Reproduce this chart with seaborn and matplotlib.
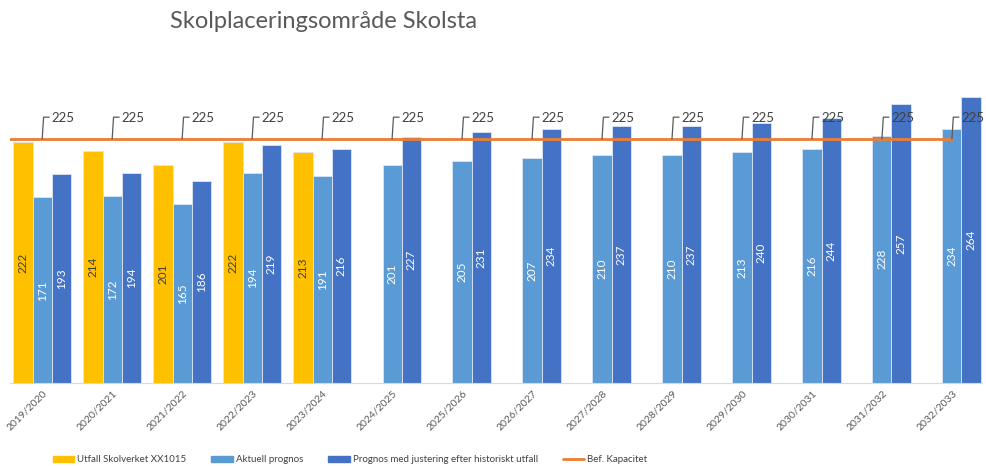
import numpy as np
import pandas as pd
import seaborn as sns
import matplotlib.pyplot as plt
from matplotlib.patches import Patch
from matplotlib.lines import Line2D

# Values
years = ['2019/2020', '2020/2021', '2021/2022', '2022/2023', '2023/2024', '2024/2025', '2025/2026',
         '2026/2027', '2027/2028', '2028/2029', '2029/2030', '2030/2031', '2031/2032', '2032/2033']
utfall = [222, 214, 201, 222, 213, np.nan, np.nan, np.nan, np.nan, np.nan, np.nan, np.nan, np.nan, np.nan]
aktuell = [171, 172, 165, 194, 191, 201, 205, 207, 210, 210, 213, 216, 228, 234]
justerad = [193, 194, 186, 219, 216, 227, 231, 234, 237, 237, 240, 244, 257, 264]
kapacitet = [225] * len(years)

series_names = ['Utfall Skolverket XX1015', 'Aktuell prognos',
                'Prognos med justering efter historiskt utfall']
colors = ['#FFC000', '#5B9BD5', '#4472C4']
line_name = 'Bef. Kapacitet'
line_color = '#ED7D31'

df = pd.DataFrame({'år': years, series_names[0]: utfall,
                   series_names[1]: aktuell, series_names[2]: justerad})
long_df = df.melt(id_vars='år', var_name='serie', value_name='elever')

sns.set_style('white')
plt.rcParams['font.family'] = ['Lato', 'DejaVu Sans']

fig = plt.figure(figsize=(9.87, 4.66), dpi=100)
ax = fig.add_axes([10 / 987, 1 - 383 / 466, 972 / 987, 325.5 / 466])

sns.barplot(data=long_df, x='år', y='elever', hue='serie', hue_order=series_names,
            palette=colors, saturation=1, width=0.82, edgecolor='#DDE6F4', linewidth=0.6,
            legend=False, ax=ax)

# Labels inside the bars
for cont, col in zip(ax.containers, ['#404040', 'white', 'white']):
    labels = ['' if np.isnan(b.get_height()) else f'{b.get_height():.0f}' for b in cont]
    ax.bar_label(cont, labels=labels, label_type='center', rotation=90,
                 color=col, fontsize=8.5)

# Capacity line with labels and leader lines
xs = np.arange(len(years))
ax.plot(np.r_[-0.46, xs], np.r_[kapacitet[0], kapacitet], color=line_color, lw=2, zorder=5)
for x, k in zip(xs, kapacitet):
    ax.plot([x, x + 0.02, x + 0.1], [k, k + 20, k + 20], color='#595959', lw=0.9, zorder=6)
    ax.text(x + 0.13, k + 19.5, f'{k}', fontsize=9.5, color='#404040', va='center', zorder=7)

ax.set_xlim(-0.46, 13.43)
ax.set_ylim(0, 300)
ax.set_xlabel('')
ax.set_ylabel('')
ax.set_yticks([])
ax.tick_params(axis='x', length=0, pad=4)
plt.setp(ax.get_xticklabels(), rotation=45, ha='right', rotation_mode='anchor',
         fontsize=7.5, color='#595959')
for side in ['top', 'right', 'left']:
    ax.spines[side].set_visible(False)
ax.spines['bottom'].set_color('#D9D9D9')

fig.text(324 / 987, 1 - 22 / 466, 'Skolplaceringsområde Skolsta', fontsize=17,
         color='#595959', ha='center', va='center')

handles = [Patch(color=c) for c in colors] + [Line2D([], [], color=line_color, lw=2)]
fig.legend(handles, series_names + [line_name], loc='center', ncol=4,
           bbox_to_anchor=(350 / 987, 1 - 460 / 466), frameon=False, fontsize=7,
           handlelength=2.2, handleheight=0.6, columnspacing=2.6, handletextpad=0.3,
           labelcolor='#404040')

fig.savefig('out.png', dpi=100)
